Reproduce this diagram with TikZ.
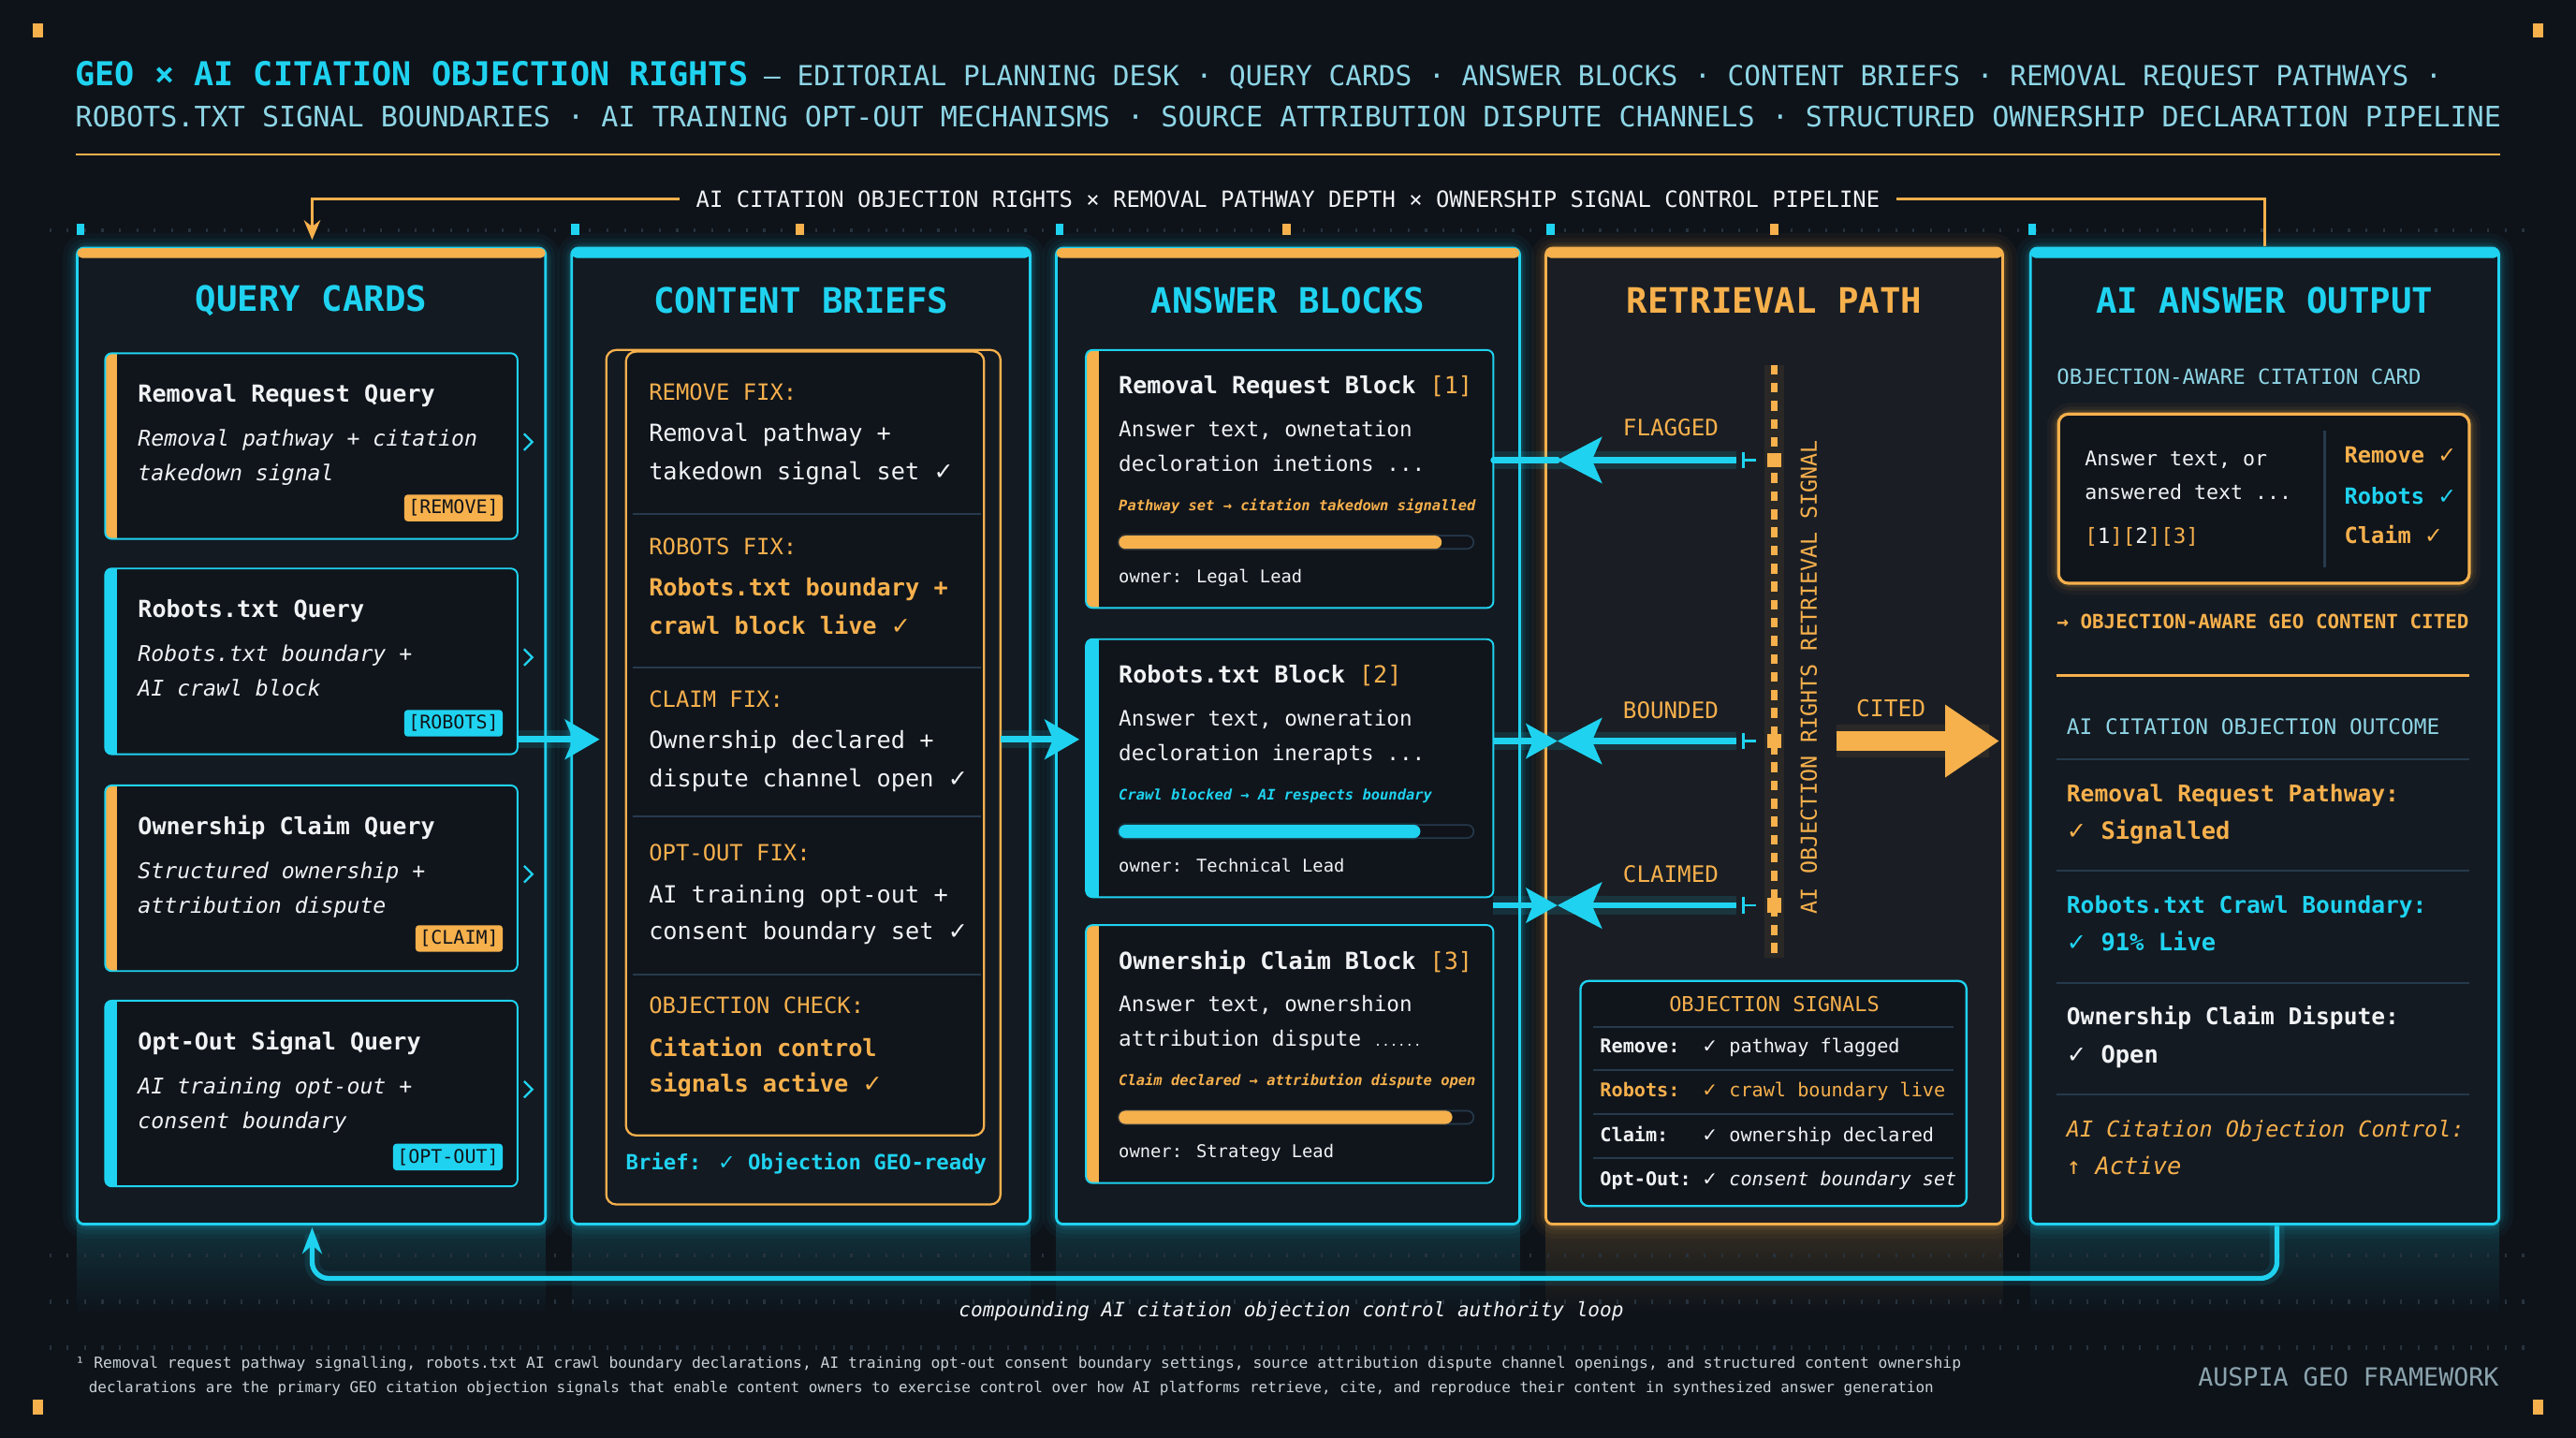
\documentclass[tikz,border=0pt]{standalone}
\usepackage{fontspec}
\setmainfont{DejaVu Sans Mono}
\newfontfamily\symf{DejaVu Sans}
\usetikzlibrary{arrows.meta,calc}
\definecolor{bgc}{HTML}{0E131A}
\definecolor{panc}{HTML}{141A22}
\definecolor{panw}{HTML}{1A1E24}
\definecolor{cardc}{HTML}{10151C}
\definecolor{cy}{HTML}{1FD3F0}
\definecolor{cyl}{HTML}{8ED6E6}
\definecolor{orn}{HTML}{F6B04C}
\definecolor{wht}{HTML}{F0F2F4}
\definecolor{sepc}{HTML}{263A4C}
\definecolor{gryc}{HTML}{8BA3AD}
\definecolor{dotc}{HTML}{27323D}
\definecolor{darkt}{HTML}{10141A}
\definecolor{footc}{HTML}{C9D1D7}
\newcommand\fz[1]{\fontsize{#1}{#1}\selectfont}
\newcommand\ck{{\symf ✓}}
\tikzset{
  every node/.style={inner sep=0pt, outer sep=0pt},
  tl/.style={anchor=mid west, text=wht},
  flowglow/.style={cy, line width=11pt, opacity=0.13},
}
\newcommand\panelbox[8]{%
  \foreach \lw/\op in {18pt/0.035,12pt/0.05,7pt/0.08,4pt/0.12}{%
    \draw[#6, line width=\lw, opacity=\op, rounded corners=6pt] ({#2-#3/2},151) rectangle ({#2+#3/2},745);}
  \node[draw=#6, line width=1.6pt, fill=#5, rounded corners=4pt, minimum width=#3pt, minimum height=594pt] (#1) at (#2,448) {};
  \fill[#4, rounded corners=3pt] (#1.north west) rectangle ($(#1.north east)+(0,6)$);
  \node[text=#8, font=\fz{21.3}\bfseries] (#1h) at (#2,183) {#7};}
\newcommand\qcard[8]{%
  \node[fill=cardc, rounded corners=4pt, minimum width=251pt, minimum height=113pt, anchor=north west] (#1) at (64,#2) {};
  \begin{scope}
    \clip[rounded corners=4pt] (#1.north west) rectangle (#1.south east);
    \fill[#3] (#1.north west) rectangle ($(#1.south west)+(7,0)$);
  \end{scope}
  \draw[cy, line width=1.1pt, rounded corners=4pt] (#1.north west) rectangle (#1.south east);
  \node[tl, font=\fz{14.3}\bfseries] (#1t) at ($(#1.north west)+(20,27)$) {#4};
  \node[tl, font=\fz{13.2}\itshape] (#1a) at ($(#1.north west)+(20,54)$) {#5};
  \node[tl, font=\fz{13.2}\itshape] (#1b) at ($(#1.north west)+(20,75)$) {#6};
  \node[anchor=mid east, fill=#3, text=darkt, font=\fz{11.4}, inner xsep=2.5pt, inner ysep=3pt, rounded corners=2pt] (#1g) at ($(#1.north east)+(-9,#8)$) {#7};
  \draw[cy, line width=1.3pt] ($(#1.north east)+(4,49)$) -- ++(5,5) -- ++(-5,5);}
\newcommand\ablock[9]{%
  \node[fill=cardc, rounded corners=4pt, minimum width=248pt, minimum height=157pt, anchor=north west] (#1) at (661,#2) {};
  \begin{scope}
    \clip[rounded corners=4pt] (#1.north west) rectangle (#1.south east);
    \fill[#3] (#1.north west) rectangle ($(#1.south west)+(8,0)$);
  \end{scope}
  \draw[cy, line width=1.1pt, rounded corners=4pt] (#1.north west) rectangle (#1.south east);
  \node[tl, font=\fz{14.3}\bfseries] (#1t) at ($(#1.north west)+(20,24)$) {#4};
  \node[tl, font=\fz{12.9}] (#1a) at ($(#1.north west)+(20,50)$) {#5};
  \node[tl, font=\fz{12.9}] (#1b) at ($(#1.north west)+(20,71)$) {#6};
  \node[tl, text=#3, font=\fz{8.8}\bfseries\itshape] (#1s) at ($(#1.north west)+(20,95)$) {#7};
  \draw[#3, line width=10pt, opacity=0.12, line cap=round] ($(#1.north west)+(24,117)$) -- ($(#1.north west)+({16+216*#8},117)$);
  \draw[sepc, fill=darkt, line width=0.9pt, rounded corners=4pt] ($(#1.north west)+(20,113)$) rectangle ($(#1.north west)+(236,121)$);
  \fill[#3, rounded corners=4pt] ($(#1.north west)+(20,113)$) rectangle ($(#1.north west)+({20+216*#8},121)$);
  \node[tl, font=\fz{10.7}] (#1o) at ($(#1.north west)+(20,139)$) {#9};}
\begin{document}
\begin{tikzpicture}[x=1pt,y=-1pt]
\fill[bgc] (0,0) rectangle (1568,875);
\useasboundingbox (0,0) rectangle (1568,875);
% haze under panels
\foreach \xa/\xb/\cc in {47/332/cy,348/627/cy,643/925/cy,941/1219/orn,1236/1521/cy}{%
  \shade[top color=\cc!16!bgc, bottom color=bgc] (\xa,745) rectangle (\xb,800);}
% dotted rows
\foreach \yy in {139,763,791,819}{\foreach \xx in {30,40.6,...,1540}{\fill[dotc] (\xx,\yy) rectangle ++(1.2,2.4);}}
% corner marks
\foreach \xx/\yy in {20/14,1542/14,20/852,1542/852}{\fill[orn] (\xx,\yy) rectangle ++(6,9);}
% header
\node[anchor=base west, text=cy, font=\fz{20}\bfseries] (ttl) at (46,52) {GEO × AI CITATION OBJECTION RIGHTS};
\node[anchor=base west, text=cyl, font=\fz{16.8}] (ttl2) at (465,52) {— EDITORIAL PLANNING DESK · QUERY CARDS · ANSWER BLOCKS · CONTENT BRIEFS · REMOVAL REQUEST PATHWAYS ·};
\node[anchor=base west, text=cyl, font=\fz{17.15}] (ttl3) at (46,77) {ROBOTS.TXT SIGNAL BOUNDARIES · AI TRAINING OPT-OUT MECHANISMS · SOURCE ATTRIBUTION DISPUTE CHANNELS · STRUCTURED OWNERSHIP DECLARATION PIPELINE};
\draw[orn, line width=1.6pt] (46,94) -- (1522,94);
\node[text=wht, font=\fz{13.6}, inner xsep=10pt] (banner) at (784,121) {AI CITATION OBJECTION RIGHTS × REMOVAL PATHWAY DEPTH × OWNERSHIP SIGNAL CONTROL PIPELINE};
% markers
\foreach \xx/\cc in {49/cy,350/cy,487/orn,645/cy,783/orn,944/cy,1080/orn,1237/cy}{\fill[\cc] (\xx-2.5,136) rectangle ++(5,7);}
% panels
\panelbox{p1}{189.5}{285}{orn}{panc}{cy}{QUERY CARDS}{cy}
\panelbox{p2}{487.5}{279}{cy}{panc}{cy}{CONTENT BRIEFS}{cy}
\panelbox{p3}{784}{282}{orn}{panc}{cy}{ANSWER BLOCKS}{cy}
\panelbox{p4}{1080}{278}{orn}{panw}{orn}{RETRIEVAL PATH}{orn}
\panelbox{p5}{1378.5}{285}{cy}{panc}{cy}{AI ANSWER OUTPUT}{cy}
% top connector
\draw[orn, line width=1.5pt] ($(p5.north)+(0,-1)$) |- (banner.east);
\draw[orn, line width=1.5pt, -{Stealth[length=12pt,width=10pt]}] (banner.west) -| ($(p1.north)+(0.5,-5)$);
% query cards
\qcard{q1}{215}{orn}{Removal Request Query}{Removal pathway + citation}{takedown signal}{[REMOVE]}{95}
\qcard{q2}{346}{cy}{Robots.txt Query}{Robots.txt boundary +}{AI crawl block}{[ROBOTS]}{95}
\qcard{q3}{478}{orn}{Ownership Claim Query}{Structured ownership +}{attribution dispute}{[CLAIM]}{94}
\qcard{q4}{609}{cy}{Opt-Out Signal Query}{AI training opt-out +}{consent boundary}{[OPT-OUT]}{96}
% content briefs
\node[draw=orn, line width=1.3pt, rounded corners=6pt, minimum width=240pt, minimum height=520pt, anchor=north west] (bo) at (369,213) {};
\node[draw=orn, fill=cardc, line width=1.3pt, rounded corners=6pt, minimum width=218pt, minimum height=477pt, anchor=north west] (bi) at (381,214) {};
\foreach \yy in {313,406,497,593}{\draw[sepc, line width=1.2pt] (385,\yy) -- (597,\yy);}
\node[tl, text=orn, font=\fz{13.6}] (b1) at (395,241) {REMOVE FIX:};
\node[tl, font=\fz{14.4}] (b2) at (395,266) {Removal pathway +};
\node[tl, font=\fz{14.4}] (b3) at (395,289) {takedown signal set \ck};
\node[tl, text=orn, font=\fz{13.6}] (b4) at (395,335) {ROBOTS FIX:};
\node[tl, text=orn, font=\fz{14.4}\bfseries] (b5) at (395,360) {Robots.txt boundary +};
\node[tl, text=orn, font=\fz{14.4}\bfseries] (b6) at (395,383) {crawl block live \ck};
\node[tl, text=orn, font=\fz{13.6}] (b7) at (395,428) {CLAIM FIX:};
\node[tl, font=\fz{14.4}] (b8) at (395,453) {Ownership declared +};
\node[tl, font=\fz{14.4}] (b9) at (395,476) {dispute channel open \ck};
\node[tl, text=orn, font=\fz{13.6}] (b10) at (395,521) {OPT-OUT FIX:};
\node[tl, font=\fz{14.4}] (b11) at (395,547) {AI training opt-out +};
\node[tl, font=\fz{14.4}] (b12) at (395,569) {consent boundary set \ck};
\node[tl, text=orn, font=\fz{13.6}] (b13) at (395,614) {OBJECTION CHECK:};
\node[tl, text=orn, font=\fz{14.4}\bfseries] (b14) at (395,640) {Citation control};
\node[tl, text=orn, font=\fz{14.4}\bfseries] (b15) at (395,662) {signals active \ck};
\node[tl, text=cy, font=\fz{12.7}\bfseries] (b16) at (381,709) {Brief: \ck\ Objection GEO-ready};
% answer blocks
\ablock{a1}{213}{orn}{Removal Request Block \textcolor{orn}{\mdseries[1]}}{Answer text, ownetation}{decloration inetions ...}{Pathway set → citation takedown signalled}{0.91}{owner: Legal Lead}
\ablock{a2}{389}{cy}{Robots.txt Block \textcolor{orn}{\mdseries[2]}}{Answer text, owneration}{decloration inerapts ...}{Crawl blocked → AI respects boundary}{0.85}{owner: Technical Lead}
\ablock{a3}{563}{orn}{Ownership Claim Block \textcolor{orn}{\mdseries[3]}}{Answer text, ownershion}{attribution dispute {\fz{8}......}}{Claim declared → attribution dispute open}{0.94}{owner: Strategy Lead}
% flows between panels
\draw[flowglow] ($(q2.south east)+(0,-9)$) -- ($(p2.west)+(6,2)$);
\draw[cy, line width=4pt, -{Stealth[length=21pt,width=24pt,inset=5pt]}] ($(q2.south east)+(0,-9)$) -- ($(p2.west)+(17,2)$);
\draw[flowglow] ($(bo.east)+(0,-23)$) -- ($(p3.west)+(4,2)$);
\draw[cy, line width=4pt, -{Stealth[length=21pt,width=24pt,inset=5pt]}] ($(bo.east)+(0,-23)$) -- ($(p3.west)+(14,2)$);
% retrieval path
\draw[orn, line width=12pt, opacity=0.07] (1080,222) -- (1080,583);
\draw[orn, line width=4pt, dash pattern=on 6pt off 5pt] (1080,222) -- (1080,583);
\coordinate (hF) at (948,280); \coordinate (sF) at (1057,280);
\coordinate (hB) at (948,451); \coordinate (sB) at (1057,451);
\coordinate (hC) at (948,551); \coordinate (sC) at (1057,551);
\foreach \yy in {280,451,551}{%
  \fill[orn] (1075.5,\yy-4.5) rectangle (1084.5,\yy+4.5);
  \draw[cy, line width=1.5pt] (1061,\yy-5) -- (1061,\yy+5);
  \draw[cy, line width=1.5pt] (1061,\yy) -- (1069,\yy);}
\draw[flowglow] ($(a1.east)+(0,-11.5)$) -- (sF);
\draw[cy, line width=3.5pt, line cap=round] ($(a1.east)+(0,-11.5)$) -- (hF);
\draw[flowglow] ($(a2.east)+(0,-16.5)$) -- (sB);
\draw[cy, line width=3.5pt, -{Stealth[length=19pt,width=21pt,inset=4pt]}] ($(a2.east)+(0,-16.5)$) -- (hB);
\draw[flowglow] ($(p3.east)+(-16,103)$) -- (sC);
\draw[cy, line width=3.5pt, -{Stealth[length=19pt,width=21pt,inset=4pt]}] ($(p3.east)+(-16,103)$) -- (hC);
\foreach \s/\h in {sF/hF,sB/hB,sC/hC}{\draw[cy, line width=3.5pt, -{Stealth[length=27pt,width=28pt,inset=6pt]}] (\s) -- (\h);}
\node[text=orn, font=\fz{13.8}] (lF) at (1017,260) {FLAGGED};
\node[text=orn, font=\fz{13.8}] (lB) at (1017,432) {BOUNDED};
\node[text=orn, font=\fz{13.8}] (lC) at (1017,532) {CLAIMED};
\node[rotate=90, text=orn, font=\fz{13.3}] (rsig) at (1101,412) {AI OBJECTION RIGHTS RETRIEVAL SIGNAL};
\node[text=orn, font=\fz{14}] (lcit) at (1151,431) {CITED};
\coordinate (cS) at (1118,451);
\draw[orn, line width=20pt, opacity=0.08] (cS) -- ($(p4.east)+(-8,3)$);
\draw[orn, line width=12pt, -{Triangle[length=33pt,width=42pt]}] (cS) -- ($(p4.east)+(-2,3)$);
\node[draw=cy, line width=1.3pt, rounded corners=5pt, fill=cardc, minimum width=235pt, minimum height=137pt, anchor=north west] (osb) at (962,597) {};
\node[text=orn, font=\fz{12.5}] (ost) at (1080,611) {OBJECTION SIGNALS};
\foreach \yy in {625,651,678,705}{\draw[sepc, line width=1.1pt] (970,\yy) -- (1189,\yy);}
\node[tl, font=\fz{11.5}\bfseries] (os1) at (974,638) {Remove:};
\node[tl, font=\fz{11.5}] (os1v) at (1036,638) {\ck\ pathway flagged};
\node[tl, text=orn, font=\fz{11.5}\bfseries] (os2) at (974,665) {Robots:};
\node[tl, text=orn, font=\fz{11.5}] (os2v) at (1036,665) {\ck\ crawl boundary live};
\node[tl, font=\fz{11.5}\bfseries] (os3) at (974,692) {Claim:};
\node[tl, font=\fz{11.5}] (os3v) at (1036,692) {\ck\ ownership declared};
\node[tl, font=\fz{11.5}\bfseries] (os4) at (974,719) {Opt-Out:};
\node[tl, font=\fz{11.5}] (os4v) at (1036,719) {\ck\ \textit{consent boundary set}};
% AI answer output
\node[tl, text=cyl, font=\fz{12.7}] (o1) at (1252,231) {OBJECTION-AWARE CITATION CARD};
\foreach \lw/\op in {14pt/0.04,9pt/0.07,5pt/0.12}{\draw[orn, line width=\lw, opacity=\op, rounded corners=8pt] (1253,252) rectangle (1503,355);}
\node[draw=orn, line width=1.8pt, fill=cardc, rounded corners=6pt, minimum width=250pt, minimum height=103pt, anchor=north west] (occ) at (1253,252) {};
\draw[sepc, line width=1.2pt] (1415,262) -- (1415,345);
\node[tl, font=\fz{12.3}] (oc1) at (1269,281) {Answer text, or};
\node[tl, font=\fz{12.3}] (oc2) at (1269,301) {answered text ...};
\node[tl, text=orn, font=\fz{12.8}] (oc3) at (1269,328) {[\textcolor{wht}{1}][\textcolor{wht}{2}][3]};
\node[tl, text=orn, font=\fz{13.5}\bfseries] (oc4) at (1427,279) {Remove \ck};
\node[tl, text=cy, font=\fz{13.5}\bfseries] (oc5) at (1427,304) {Robots \ck};
\node[tl, text=orn, font=\fz{13.5}\bfseries] (oc6) at (1427,328) {Claim \ck};
\node[tl, text=orn, font=\fz{11.9}\bfseries] (o2) at (1252,380) {→ OBJECTION-AWARE GEO CONTENT CITED};
\draw[orn, line width=1.5pt] (1252,411) -- (1503,411);
\node[tl, text=cyl, font=\fz{13}] (o3) at (1258,444) {AI CITATION OBJECTION OUTCOME};
\foreach \yy in {462,530,598,666}{\draw[sepc, line width=1.2pt] (1252,\yy) -- (1503,\yy);}
\node[tl, text=orn, font=\fz{14}\bfseries] (o4) at (1258,485) {Removal Request Pathway:};
\node[tl, text=orn, font=\fz{14.5}\bfseries] (o5) at (1258,508) {\ck\ Signalled};
\node[tl, text=cy, font=\fz{14}\bfseries] (o6) at (1258,553) {Robots.txt Crawl Boundary:};
\node[tl, text=cy, font=\fz{14.5}\bfseries] (o7) at (1258,576) {\ck\ 91\% Live};
\node[tl, font=\fz{14}\bfseries] (o8) at (1258,621) {Ownership Claim Dispute:};
\node[tl, font=\fz{14.5}\bfseries] (o9) at (1258,644) {\ck\ Open};
\node[tl, text=orn, font=\fz{13.4}\itshape] (o10) at (1258,689) {AI Citation Objection Control:};
\node[tl, text=orn, font=\fz{14.5}\itshape] (o11) at (1258,712) {↑ Active};
% feedback loop
\draw[cy, line width=9pt, opacity=0.1, rounded corners=10pt] ($(p5.south)+(7.5,0)$) -- ++(0,33) -| ($(p1.south)+(0.5,6)$);
\draw[cy, line width=3pt, rounded corners=10pt, -{Stealth[length=16pt,width=12pt]}] ($(p5.south)+(7.5,1)$) -- ++(0,32) -| ($(p1.south)+(0.5,2)$);
\node[text=wht, font=\fz{12}\itshape] (loop) at (786,798) {compounding AI citation objection control authority loop};
% footer
\node[anchor=mid west, text=footc, font=\fz{9.3}] (fn1) at (46,830) {¹ Removal request pathway signalling, robots.txt AI crawl boundary declarations, AI training opt-out consent boundary settings, source attribution dispute channel openings, and structured content ownership};
\node[anchor=mid west, text=footc, font=\fz{9.1}] (fn2) at (54,845) {declarations are the primary GEO citation objection signals that enable content owners to exercise control over how AI platforms retrieve, cite, and reproduce their content in synthesized answer generation};
\node[anchor=mid east, text=gryc, font=\fz{15.2}] (brand) at (1521,841) {AUSPIA GEO FRAMEWORK};
\end{tikzpicture}
\end{document}
